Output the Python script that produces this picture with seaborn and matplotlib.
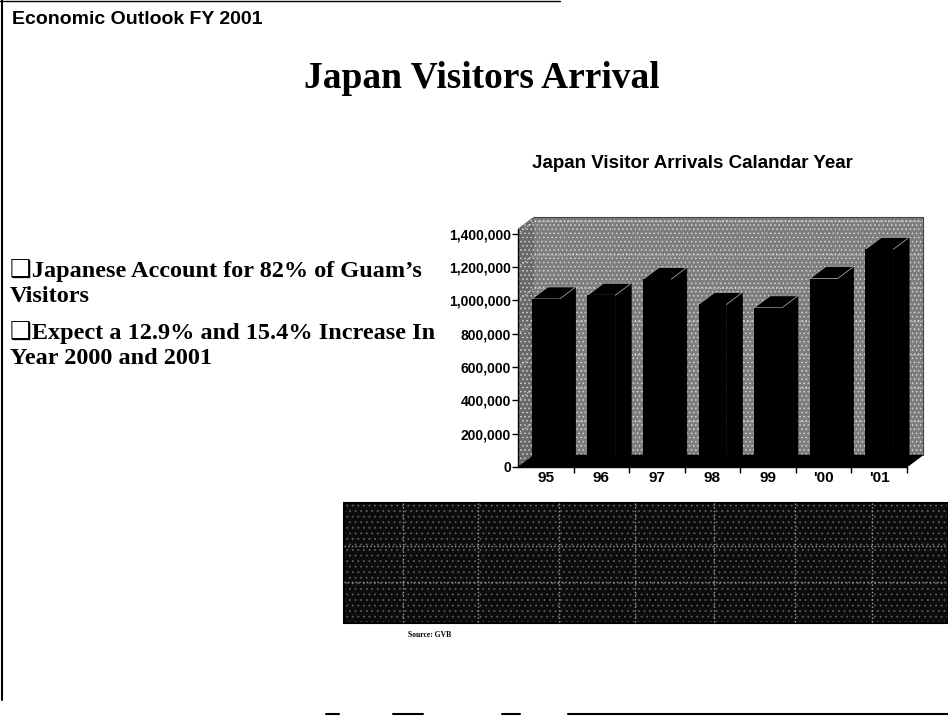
import matplotlib
matplotlib.use('Agg')
import matplotlib.pyplot as plt
import seaborn as sns
import pandas as pd
from matplotlib.patches import Polygon, Rectangle

# chart data
years = ['95', '96', '97', '98', '99', "'00", "'01"]
arrivals = [1008000, 1030000, 1125000, 975000, 955000, 1130000, 1305000]
y_ticks = [0, 200000, 400000, 600000, 800000, 1000000, 1200000, 1400000]

# slide texts
header = 'Economic Outlook FY 2001'
title = 'Japan Visitors Arrival'
subtitle = 'Japan Visitor Arrivals Calandar Year'
bullet_lines = ['\u2751Japanese Account for 82% of Guam\u2019s', 'Visitors',
                '\u2751Expect a 12.9% and 15.4% Increase In', 'Year 2000 and 2001']
source = 'Source: GVB'

df = pd.DataFrame({'Year': years, 'Arrivals': arrivals})

sns.set_style('white')
plt.rcParams['hatch.linewidth'] = 0.6
for k in ['text.color', 'axes.labelcolor', 'xtick.color', 'ytick.color']:
    plt.rcParams[k] = 'black'
sans = ['Liberation Sans', 'DejaVu Sans']
serif = ['Liberation Serif', 'DejaVu Sans']

W, H = 948, 716
fig = plt.figure(figsize=(W / 100, H / 100), dpi=100)

# background axes in pixel coordinates for slide text and the data table
bg = fig.add_axes([0, 0, 1, 1], zorder=0)
bg.set_xlim(0, W)
bg.set_ylim(H, 0)
bg.axis('off')

bg.text(12, 20, header, fontsize=14, fontweight='bold', family=sans, va='center', ha='left')
bg.text(482, 79, title, fontsize=27, fontweight='bold', family=serif, va='center', ha='center')
bg.text(692, 163, subtitle, fontsize=13.5, fontweight='bold', family=sans, va='center', ha='center')

for yy, line in zip([271, 297, 333, 359], bullet_lines):
    bg.text(10, yy, line, fontsize=17.5, fontweight='bold', family=serif, va='center', ha='left')

# slide border remnants
bg.plot([2.5, 2.5], [0, 700], color='black', lw=1.5)
bg.plot([0, 560], [1, 1], color='black', lw=1)
for a, b in [(326, 339), (393, 423), (502, 520), (568, 948)]:
    bg.plot([a, b], [714, 714], color='black', lw=1.5)

# dark data table under the chart (values not legible)
col_edges = [344, 403, 478, 559, 635, 714, 795, 872, 948]
row_edges = [503, 546, 582, 623]
bg.add_patch(Rectangle((col_edges[0], row_edges[0]), W - col_edges[0], row_edges[-1] - row_edges[0],
                       facecolor='#0c0c0c', edgecolor='#5e5e5e', hatch='...', lw=0))
for cx in col_edges[1:-1]:
    bg.plot([cx, cx], [row_edges[0], row_edges[-1]], color='#a0a0a0', lw=1, ls=':')
for ry in row_edges[1:-1]:
    bg.plot([col_edges[0], W], [ry, ry], color='#a0a0a0', lw=1, ls=':')
bg.add_patch(Rectangle((col_edges[0], row_edges[0]), W - col_edges[0], row_edges[-1] - row_edges[0],
                       facecolor='none', edgecolor='black', lw=1.5))
bg.text(430, 635, source, fontsize=5.5, fontweight='bold', family=serif, va='center', ha='center')

# chart axes
ax_l, ax_r, ax_b = 518, 907, 467
y_top = 1430000
ax_h = 233.4 * y_top / 1400000
ax = fig.add_axes([ax_l / W, 1 - ax_b / H, (ax_r - ax_l) / W, ax_h / H], zorder=2)
ax.patch.set_alpha(0)

sns.barplot(data=df, x='Year', y='Arrivals', order=years, color='black', saturation=1,
            width=0.5, edgecolor='black', linewidth=0, ax=ax, zorder=4)
ax.set_xlim(-0.5, len(years) - 0.5)
ax.set_ylim(0, y_top)

# 3D depth, converted from pixels to data units
dx = 16 / ((ax_r - ax_l) / len(years))
dy = 12 * y_top / ax_h
x0, x1 = -0.5, len(years) - 0.5

back = Polygon([(x0 + dx, dy), (x1 + dx, dy), (x1 + dx, y_top + dy), (x0 + dx, y_top + dy)],
               facecolor='#7d7d7d', edgecolor='#d4d4d4', hatch='....', lw=0, clip_on=False, zorder=0)
left = Polygon([(x0, 0), (x0 + dx, dy), (x0 + dx, y_top + dy), (x0, y_top)],
               facecolor='#6a6a6a', edgecolor='#cfcfcf', hatch='....', lw=0, clip_on=False, zorder=0)
floor = Polygon([(x0, 0), (x1, 0), (x1 + dx, dy), (x0 + dx, dy)],
                facecolor='black', edgecolor='black', lw=0.5, clip_on=False, zorder=1)
for p in (back, left, floor):
    ax.add_patch(p)
for t in y_ticks[1:]:
    ax.plot([x0, x0 + dx, x1 + dx], [t, t + dy, t + dy], color='#e6e6e6', lw=0.8, ls=':',
            clip_on=False, zorder=1)
ax.plot([x0 + dx, x1 + dx, x1 + dx], [y_top + dy, y_top + dy, dy], color='#444444', lw=0.8,
        clip_on=False, zorder=1)

# top and side faces of each bar
for bar in ax.patches[:len(years)]:
    bx, bw, bh = bar.get_x(), bar.get_width(), bar.get_height()
    top = Polygon([(bx, bh), (bx + bw, bh), (bx + bw + dx, bh + dy), (bx + dx, bh + dy)],
                  facecolor='black', edgecolor='#9a9a9a', lw=0.6, clip_on=False, zorder=3)
    side = Polygon([(bx + bw, 0), (bx + bw + dx, dy), (bx + bw + dx, bh + dy), (bx + bw, bh)],
                   facecolor='black', edgecolor='black', lw=0.5, clip_on=False, zorder=3)
    ax.add_patch(side)
    ax.add_patch(top)

ax.set_yticks(y_ticks)
ax.set_yticklabels([f'{v:,}' for v in y_ticks])
ax.set_xticks(range(len(years)))
ax.set_xticks([i + 0.5 for i in range(len(years))], minor=True)
ax.set_xlabel('')
ax.set_ylabel('')
ax.tick_params(axis='y', left=True, length=4, width=1, pad=1, labelsize=10)
ax.tick_params(axis='x', which='major', bottom=False, length=0, pad=3, labelsize=11)
ax.tick_params(axis='x', which='minor', bottom=True, length=4, width=1)
for lab in ax.get_xticklabels() + ax.get_yticklabels():
    lab.set_family(sans)
    lab.set_fontweight('bold')
for s in ['top', 'right']:
    ax.spines[s].set_visible(False)
for s in ['left', 'bottom']:
    ax.spines[s].set_color('black')
    ax.spines[s].set_linewidth(1)
    ax.spines[s].set_zorder(5)

fig.savefig('out.png', dpi=100)
